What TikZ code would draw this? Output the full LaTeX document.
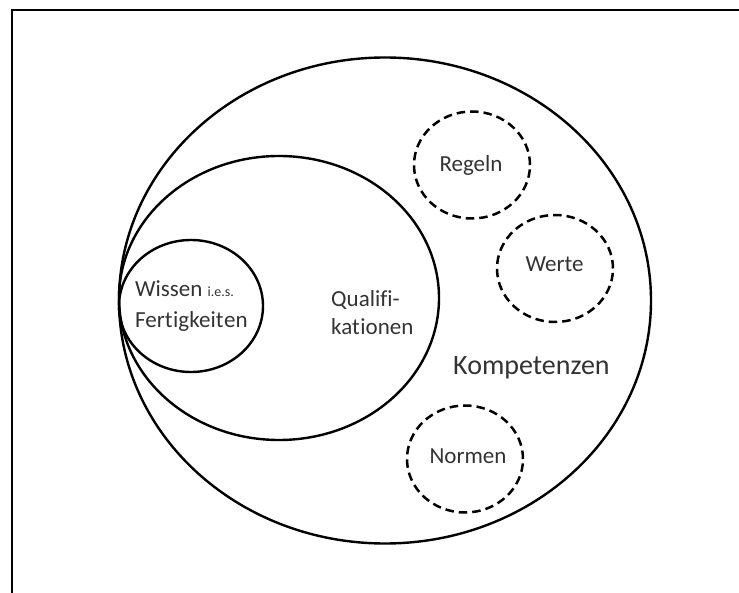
\documentclass[tikz,border=0pt]{standalone}
\usepackage{fontspec}
\setmainfont{Carlito}[Ligatures={NoCommon,NoRare,NoContextual}]
\usetikzlibrary{shapes.geometric}
\definecolor{txt}{HTML}{333333}
\tikzset{
  set/.style={draw=black, line width=2.4pt, ellipse, inner sep=0pt},
  value/.style={draw=black, line width=2.5pt, ellipse, inner sep=0pt,
    dash pattern=on 8.5pt off 5pt, minimum width=116pt, minimum height=107pt},
  lbl/.style={text=txt, inner sep=0pt, font=\fontsize{23}{28}\selectfont},
  biglbl/.style={text=txt, inner sep=0pt, font=\fontsize{28}{34}\selectfont},
}
\begin{document}
\begin{tikzpicture}[x=1pt, y=-1pt]
  \useasboundingbox (0,0) rectangle (739,593);
  % open frame: top and left edges
  \coordinate (fTR) at (739,10.5);
  \coordinate (fTL) at (11.5,10.5);
  \coordinate (fBL) at (11.5,593);
  \draw[line width=2pt] (fTR) -- (fTL) -- (fBL);

  % nested sets
  \node[set, minimum width=532pt, minimum height=486pt] (komp) at (385,300.5) {};
  \node[set, minimum width=320pt, minimum height=284pt] (qual) at (279,298) {};
  \node[set, minimum width=144pt, minimum height=132pt] (wiss) at (191,306) {};

  % values, rules, norms
  \node[value] (regeln) at (472,165) {};
  \node[value] (werte)  at (555,268.5) {};
  \node[value] (normen) at (465,459) {};

  % labels (t and i kept apart)
  \node[lbl, anchor=base west] (tWissen) at (135,297) {Wissen {\fontsize{14}{16}\selectfont i.e.s.}};
  \node[lbl, anchor=base west] (tFertig) at (135,328) {Fert\kern0.6pt igkeit\kern0.6pt en};
  \node[lbl, anchor=base west] (tQual1) at (331,307) {Qualifi-};
  \node[lbl, anchor=base west] (tQual2) at (331,335) {kat\kern0.6pt ionen};
  \node[biglbl, anchor=base west] (tKomp) at (453,375) {Kompetenzen};
  \node[lbl, anchor=base] (tRegeln) at (471,172) {Regeln};
  \node[lbl, anchor=base] (tWerte)  at (554.5,272) {Werte};
  \node[lbl, anchor=base] (tNormen) at (468,463) {Normen};
\end{tikzpicture}
\end{document}
